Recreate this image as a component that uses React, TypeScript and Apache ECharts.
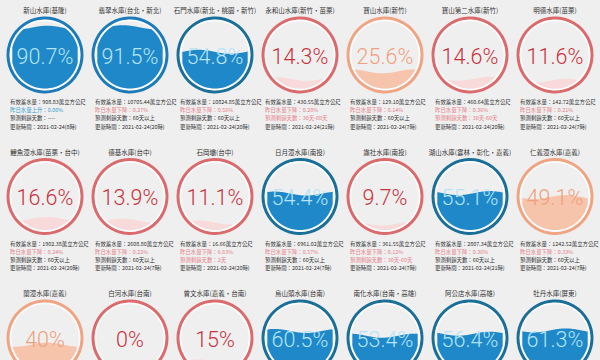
import React, { useEffect, useRef } from "react";
import * as echarts from "echarts";

const names = [
  "新山水庫(基隆)", "翡翠水庫(台北・新北)", "石門水庫(新北・桃園・新竹)", "永和山水庫(新竹・苗栗)", "寶山水庫(新竹)", "寶山第二水庫(新竹)", "明德水庫(苗栗)",
  "鯉魚潭水庫(苗栗・台中)", "德基水庫(台中)", "石岡壩(台中)", "日月潭水庫(南投)", "霧社水庫(南投)", "湖山水庫(雲林・彰化・嘉義)", "仁義潭水庫(嘉義)",
  "蘭潭水庫(嘉義)", "白河水庫(台南)", "曾文水庫(嘉義・台南)", "烏山頭水庫(台南)", "南化水庫(台南・高雄)", "阿公店水庫(高雄)", "牡丹水庫(屏東)",
];
const percents = [90.7, 91.5, 54.8, 14.3, 25.6, 14.6, 11.6, 16.6, 13.9, 11.1, 54.4, 9.7, 55.1, 49.1, 40, 0, 15, 60.5, 53.4, 56.4, 61.3];
const storages = ["908.83", "10705.44", "10824.85", "430.55", "129.10", "460.64", "142.72", "1902.38", "2608.80", "16.66", "6961.02", "361.55", "2807.34", "1242.52"];
const changeDirs = ["上升", "下降", "下降", "下降", "下降", "下降", "下降", "下降", "下降", "下降", "下降", "下降", "下降", "下降"];
const changeVals = ["0.00%", "0.27%", "0.56%", "0.28%", "0.14%", "0.36%", "0.21%", "0.24%", "0.22%", "6.63%", "0.57%", "0.12%", "0.36%", "0.33%"];
const daysLeft = ["----", "60天以上", "60天以上", "30天-60天", "60天以上", "30天-60天", "60天以上", "60天以上", "60天以上", "2天", "60天以上", "30天-60天", "60天以上", "60天以上"];
const updateTimes = ["2021-02-24(8時)", "2021-02-24(20時)", "2021-02-24(20時)", "2021-02-24(21時)", "2021-02-24(7時)", "2021-02-24(20時)", "2021-02-24(7時)", "2021-02-24(20時)", "2021-02-24(7時)", "2021-02-24(20時)", "2021-02-24(7時)", "2021-02-24(7時)", "2021-02-24(21時)", "2021-02-24(7時)"];

const COLS = 7;
const CJK = "'Noto Sans CJK TC', 'Noto Sans CJK SC', sans-serif";

function palette(p: number) {
  if (p >= 80) return { ring: "#1b7bba", fill: "#1e88c8", text: "#b5e4f8" };
  if (p >= 50) return { ring: "#1a6f98", fill: "#1e88c8", text: "#b5e4f8" };
  if (p >= 20) return { ring: "#f0a482", fill: "#f6c3ab", text: "#f0a07c" };
  return { ring: "#db6a6d", fill: "#f9dada", text: "#c9323c" };
}

export default function App() {
  const ref = useRef<HTMLDivElement>(null);
  useEffect(() => {
    if (!ref.current) return;
    const chart = echarts.init(ref.current, undefined, { renderer: "svg" });
    const data = percents.map((p, i) => [i % COLS, Math.floor(i / COLS), p]);
    const option: any = {
      animation: false,
      backgroundColor: "#efefef",
      grid: { left: 0, top: 0, width: 600, height: 360 },
      xAxis: { type: "value", min: -45 / 85, max: 555 / 85, show: false },
      yAxis: { type: "value", inverse: true, min: -55 / 141.5, max: 305 / 141.5, show: false },
      series: [
        {
          type: "custom",
          data,
          clip: false,
          renderItem: (params: any, api: any) => {
            const idx = params.dataIndex;
            const col = api.value(0);
            const row = api.value(1);
            const pct = api.value(2);
            const [cx, cy] = api.coord([col, row]);
            const pal = palette(pct);
            const rRing = 37;
            const rFill = 33.5;
            const children: any[] = [];
            children.push({
              type: "text",
              style: { text: names[idx], x: cx, y: cy - 45, fill: "#333", fontSize: 6.5, fontFamily: CJK, align: "center", verticalAlign: "middle" },
            });
            children.push({
              type: "circle",
              shape: { cx, cy, r: rRing },
              style: { fill: "none", stroke: pal.ring, lineWidth: 3 },
            });
            children.push({
              type: "circle",
              shape: { cx, cy, r: rFill + 1 },
              style: { fill: "none", stroke: "#ffffff", lineWidth: 1.5, opacity: 0.8 },
            });
            if (pct > 0) {
              const level = cy + rFill - (pct / 100) * 2 * rFill;
              const amp = 2;
              const lambda = 2 * rFill * 0.95;
              const phase = 1.2 + idx * 0.9;
              const N = 80;
              const top: number[][] = [];
              const bot: number[][] = [];
              for (let k = 0; k <= N; k++) {
                const x = -rFill + (2 * rFill * k) / N;
                const h = Math.sqrt(Math.max(0, rFill * rFill - x * x));
                const w = level + amp * Math.sin((2 * Math.PI * (x + rFill)) / lambda + phase);
                const t = Math.max(w, cy - h);
                const b = cy + h;
                if (t < b) {
                  top.push([cx + x, t]);
                  bot.push([cx + x, b]);
                }
              }
              if (top.length > 1) {
                children.push({
                  type: "polygon",
                  shape: { points: top.concat(bot.reverse()) },
                  style: { fill: pal.fill },
                });
              }
            }
            children.push({
              type: "text",
              style: {
                text: `${pct}%`, x: cx, y: cy + 1, fill: pal.text, fontSize: 21.5, fontWeight: 300,
                fontFamily: "Roboto, 'Open Sans', sans-serif", align: "center", verticalAlign: "middle",
              },
            });
            if (idx < storages.length) {
              const lx = cx - 35;
              const warn = "#e5828a";
              const rise = "#3aa0cf";
              const lines = [
                { t: `有效蓄水量：${storages[idx]}萬立方公尺`, c: "#333" },
                { t: `昨日水量${changeDirs[idx]}：${changeVals[idx]}`, c: changeDirs[idx] === "上升" ? rise : warn },
                { t: `預測剩餘天數：${daysLeft[idx]}`, c: daysLeft[idx] === "60天以上" || daysLeft[idx] === "----" ? "#333" : warn },
                { t: `更新時間：${updateTimes[idx]}`, c: "#333" },
              ];
              const offs = [47, 55, 63, 71.5];
              lines.forEach((l, j) => {
                children.push({
                  type: "text",
                  style: { text: l.t, x: lx, y: cy + offs[j], fill: l.c, fontSize: 5.4, fontFamily: CJK, align: "left", verticalAlign: "middle" },
                });
              });
            }
            return { type: "group", children };
          },
        },
      ],
    };
    chart.setOption(option);
    return () => chart.dispose();
  }, []);
  return <div ref={ref} style={{ position: "fixed", left: 0, top: 0, width: 600, height: 360 }} />;
}
